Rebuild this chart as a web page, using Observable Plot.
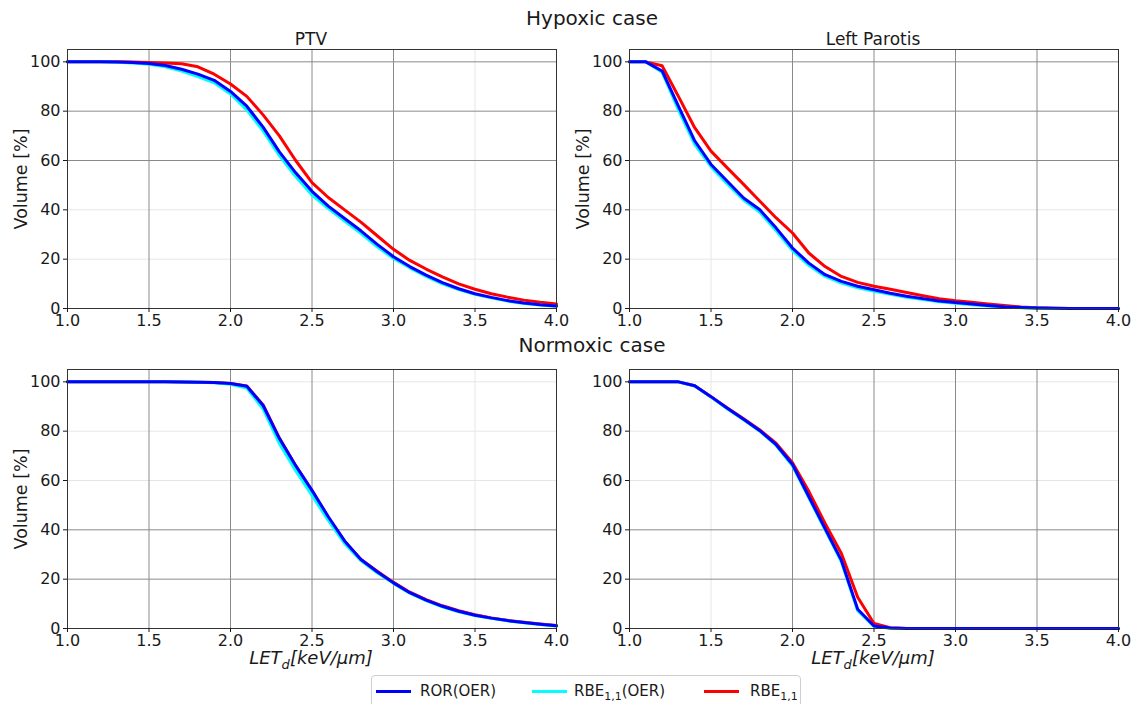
<!DOCTYPE html>
<html><head><meta charset="utf-8">
<script src="https://cdn.jsdelivr.net/npm/d3@7"></script>
<script src="https://cdn.jsdelivr.net/npm/@observablehq/plot@0.6"></script>
<style>
body{margin:0;background:#fff;font-family:"DejaVu Sans",sans-serif;color:#1a1a1a;}
#root{position:relative;width:1135px;height:704px;overflow:hidden;background:#fff;}
.abs{position:absolute;white-space:nowrap;}
.title{font-size:20px;line-height:24px;text-align:center;transform:translateX(-50%);}
.sub{font-size:17px;line-height:20px;text-align:center;transform:translateX(-50%);}
.xlab{font-size:18px;line-height:20px;font-style:italic;transform:translateX(-50%);}
.xlab sub{font-size:13px;}
#legend{left:371px;top:675px;width:428px;height:40px;border:1px solid #cfcfcf;border-radius:4px;font-size:15px;}
.lg{position:absolute;top:6px;line-height:18px;}
.lg sub{font-size:11px;}
.sw{position:absolute;top:14px;width:35px;height:3px;}
</style></head><body><div id="root"></div>
<script>
// x categories (LET_d, keV/µm)
const letD = [1.0,1.1,1.2,1.3,1.4,1.5,1.6,1.7,1.8,1.9,2.0,2.1,2.2,2.3,2.4,2.5,2.6,2.7,2.8,2.9,3.0,3.1,3.2,3.3,3.4,3.5,3.6,3.7,3.8,3.9,4.0];
const xTicks = [1.0,1.5,2.0,2.5,3.0,3.5,4.0];
const yTicks = [0,20,40,60,80,100];

// Hypoxic case, PTV
const hypPtvROR = [100,100,100,99.9,99.7,99.3,98.5,97,95,92.5,88,82,73.5,63.5,55,47.5,41.5,36.5,31.5,26,21,17,13.5,10.5,8,6,4.5,3.2,2.2,1.5,1];
const hypPtvRBEOER = [100,100,100,99.8,99.5,99,98,96.3,94,91.5,87,80.5,72,62,53.5,46,40.5,35.5,30.5,25,20.3,16.5,13,10,7.7,5.8,4.3,3,2,1.4,0.9];
const hypPtvRBE = [100,100,100,100,99.9,99.7,99.5,99.2,98,95,91,86,78.5,70,60,51,45,40,35,29.5,24,19.5,16,12.8,10,7.8,6,4.6,3.4,2.5,1.8];

// Hypoxic case, Left Parotis
const hypParROR = [100,100,96.3,82,68,58.4,51.6,44.8,40,32.6,24.5,18.4,13.7,11,9,7.6,6.2,5,4,3,2.4,1.8,1.2,0.7,0.4,0.2,0.1,0,0,0,0];
const hypParRBEOER = [100,100,95.8,80.5,66.5,57.5,50.5,44,39,31.5,23.5,17.5,13,10.3,8.4,7,5.8,4.6,3.6,2.7,2.1,1.5,1,0.6,0.3,0.15,0.05,0,0,0,0];
const hypParRBE = [100,100,98.4,86,73.3,63.8,57,50.3,43.5,36.7,30.6,22.5,17,13,10.6,9,7.8,6.5,5.2,4,3.1,2.5,1.8,1.2,0.6,0.3,0.15,0.05,0,0,0];

// Normoxic case, PTV
const norPtvROR = [100,100,100,100,100,100,100,99.9,99.8,99.7,99.3,98.2,90.4,77,66,56,45.3,35.5,28,23,18.5,14.5,11.5,9,7,5.4,4.2,3.2,2.4,1.7,1.1];
const norPtvRBEOER = [100,100,100,100,100,100,100,99.9,99.8,99.6,99,97.5,89,75,64,54,43.8,34.5,27.5,22.6,18.3,14.3,11.3,8.8,6.8,5.3,4.1,3.1,2.3,1.6,1];
const norPtvRBE = [100,100,100,100,100,100,100,99.9,99.8,99.7,99.3,98.3,90.6,77.2,66,55.8,45,35.3,28,23.2,18.7,14.7,11.7,9.2,7.2,5.6,4.3,3.3,2.5,1.8,1.2];

// Normoxic case, Left Parotis
const norParROR = [100,100,100,100,98.4,94,89.3,84.8,80.2,74.5,66.5,53.5,40.5,27.6,7.8,1,0.2,0,0,0,0,0,0,0,0,0,0,0,0,0,0];
const norParRBEOER = [100,100,100,100,98.3,93.8,89.1,84.6,80,74.2,66,53,40,27,7.2,0.8,0.1,0,0,0,0,0,0,0,0,0,0,0,0,0,0];
const norParRBE = [100,100,100,100,98.4,94,89.4,85,80.5,75,67.2,55.6,42.6,30.4,12.7,2,0.3,0,0,0,0,0,0,0,0,0,0,0,0,0,0];

const root = document.getElementById("root");
const DARK = "#8a8a8a", LIGHT = "#e6e6e6";

function panel(cfg) {
  const mk = arr => letD.map((x, i) => ({x, y: arr[i]}));
  const gx = xTicks.filter(d => d > 1 && d < 4);
  const gy = yTicks.filter(d => d > 0);
  const marks = [
    Plot.ruleX(gx.filter(d => cfg.lightX.includes(d)), {stroke: LIGHT, strokeWidth: 1}),
    Plot.ruleY(gy.filter(d => cfg.lightY.includes(d)), {stroke: LIGHT, strokeWidth: 1}),
    Plot.ruleX(gx.filter(d => !cfg.lightX.includes(d)), {stroke: DARK, strokeWidth: 1}),
    Plot.ruleY(gy.filter(d => !cfg.lightY.includes(d)), {stroke: DARK, strokeWidth: 1}),
    Plot.line(mk(cfg.rbe), {x: "x", y: "y", stroke: "#ff0000", strokeWidth: 3, strokeLinejoin: "round"}),
    Plot.line(mk(cfg.oer), {x: "x", y: "y", stroke: "#00ffff", strokeWidth: 3, strokeLinejoin: "round"}),
    Plot.line(mk(cfg.ror), {x: "x", y: "y", stroke: "#0000ff", strokeWidth: 3, strokeLinejoin: "round"}),
    Plot.frame({stroke: "#333", strokeWidth: 1}),
    Plot.axisX({ticks: xTicks, tickFormat: d3.format(".1f"), tickSize: 4, tickPadding: 2, fontSize: 16, label: null}),
    Plot.axisY({ticks: yTicks, tickSize: 4, tickPadding: 3, fontSize: 16, label: null})
  ];
  if (cfg.yLabel) marks.push(Plot.text([cfg.yLabel], {frameAnchor: "left", textAnchor: "middle", rotate: -90, dx: -46, fontSize: 17.5}));
  const p = Plot.plot({
    width: 567, height: 300,
    marginLeft: 67, marginRight: 11, marginTop: 9, marginBottom: 32,
    x: {domain: [1, 4]},
    y: {domain: [0, 105]},
    style: {fontFamily: "DejaVu Sans", color: "#1a1a1a", background: "transparent", overflow: "visible"},
    marks
  });
  p.style.position = "absolute";
  p.style.left = cfg.left + "px";
  p.style.top = cfg.top + "px";
  root.appendChild(p);
}

panel({ror: hypPtvROR, oer: hypPtvRBEOER, rbe: hypPtvRBE, lightX: [3.5], lightY: [20, 40], yLabel: "Volume [%]", left: 0, top: 40});
panel({ror: hypParROR, oer: hypParRBEOER, rbe: hypParRBE, lightX: [1.5], lightY: [20, 40], yLabel: "Volume [%]", left: 562, top: 40});
panel({ror: norPtvROR, oer: norPtvRBEOER, rbe: norPtvRBE, lightX: [3.5], lightY: [60, 80, 100], yLabel: "Volume [%]", left: 0, top: 360});
panel({ror: norParROR, oer: norParRBEOER, rbe: norParRBE, lightX: [1.5], lightY: [60, 80, 100], yLabel: null, left: 562, top: 360});

function addText(html, cls, left, top) {
  const d = document.createElement("div");
  d.className = "abs " + cls;
  d.style.left = left + "px";
  d.style.top = top + "px";
  d.innerHTML = html;
  root.appendChild(d);
}
addText("Hypoxic case", "title", 592, 6);
addText("PTV", "sub", 311, 29);
addText("Left Parotis", "sub", 873, 29);
addText("Normoxic case", "title", 592, 333);
addText("LET<sub>d</sub>[keV/μm]", "xlab", 311, 648);
addText("LET<sub>d</sub>[keV/μm]", "xlab", 873, 648);

const legend = document.createElement("div");
legend.id = "legend"; legend.className = "abs";
legend.innerHTML =
  '<div class="sw" style="left:4px;background:#0000ff"></div><div class="lg" style="left:48px">ROR(OER)</div>' +
  '<div class="sw" style="left:160px;background:#00ffff"></div><div class="lg" style="left:202px">RBE<sub>1,1</sub>(OER)</div>' +
  '<div class="sw" style="left:332px;background:#ff0000"></div><div class="lg" style="left:378px">RBE<sub>1,1</sub></div>';
root.appendChild(legend);
</script>
</body></html>
